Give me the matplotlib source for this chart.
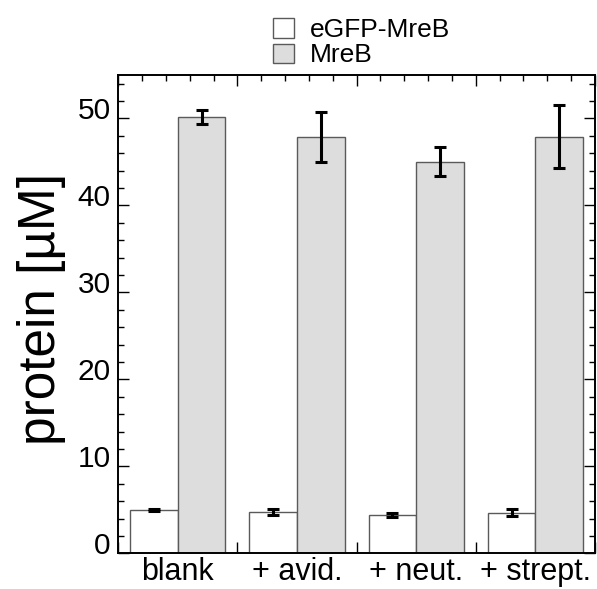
import numpy as np
import matplotlib
matplotlib.use("Agg")
import matplotlib.pyplot as plt
from matplotlib import transforms as mtrans

plt.rcParams['font.family'] = ['Liberation Sans', 'DejaVu Sans']

categories = ['blank', '+ avid.', '+ neut.', '+ strept.']
egfp = [5.0, 4.75, 4.45, 4.7]
egfp_err = [0.15, 0.35, 0.25, 0.42]
mreb = [50.2, 47.9, 45.05, 47.9]
mreb_err = [0.8, 2.85, 1.65, 3.6]
yticks = [0, 10, 20, 30, 40, 50]
series_names = ['eGFP-MreB', 'MreB']

fig = plt.figure(figsize=(5.97, 5.89), dpi=100)
ax = fig.add_axes([0.198, 0.0604, 0.7986, 0.8123])

x = np.arange(len(categories))
w = 0.4
edge = '#5a5a5a'
b1 = ax.bar(x - w / 2, egfp, w, color='white', edgecolor=edge, linewidth=1.0,
            label=series_names[0], zorder=2)
b2 = ax.bar(x + w / 2, mreb, w, color='#dcdddc', edgecolor=edge, linewidth=1.0,
            label=series_names[1], zorder=2)
ax.errorbar(x - w / 2, egfp, yerr=egfp_err, fmt='none', ecolor='black',
            elinewidth=2.2, capsize=4, capthick=2.2, zorder=3)
ax.errorbar(x + w / 2, mreb, yerr=mreb_err, fmt='none', ecolor='black',
            elinewidth=2.2, capsize=4, capthick=2.2, zorder=3)

ax.set_xlim(-0.5, len(categories) - 0.5)
ax.set_ylim(0, 55)

# ticks
ax.set_xticks(np.arange(-0.5, len(categories), 1.0))
ax.set_xticks(np.arange(-0.3, len(categories) - 0.5, 0.2), minor=True)
ax.set_yticks(yticks)
ax.set_yticks(np.arange(0, 55.1, 2), minor=True)
ax.tick_params(which='both', direction='in', top=True, right=True,
               labelbottom=False, labelleft=False, width=1.0, color='black')
ax.tick_params(which='major', length=8)
ax.tick_params(which='minor', length=4)
for s in ax.spines.values():
    s.set_linewidth(1.4)

# x category labels
xt = mtrans.blended_transform_factory(ax.transData, ax.transAxes)
for i, c in enumerate(categories):
    ax.text(i, -0.056, c, transform=xt, ha='center', va='baseline', fontsize=22)

# y labels (offset slightly upward as in reference)
yt = mtrans.blended_transform_factory(ax.transAxes, ax.transData) + \
    mtrans.ScaledTranslation(0, 7 / 100, fig.dpi_scale_trans)
for v in yticks:
    ax.text(-0.016, v, str(v), transform=yt, ha='right', va='center', fontsize=21.5)

fig.text(0.069, 0.475, 'protein [µM]', rotation=90, ha='center', va='center',
         fontsize=37)

fig.legend(handles=[b1, b2], labels=series_names, loc='upper left',
           bbox_to_anchor=(0.422, 1.005), frameon=False, fontsize=19,
           handlelength=0.8, handleheight=0.75, handletextpad=0.6,
           labelspacing=0.05, borderpad=0.3)

fig.savefig('out.png', dpi=100)
